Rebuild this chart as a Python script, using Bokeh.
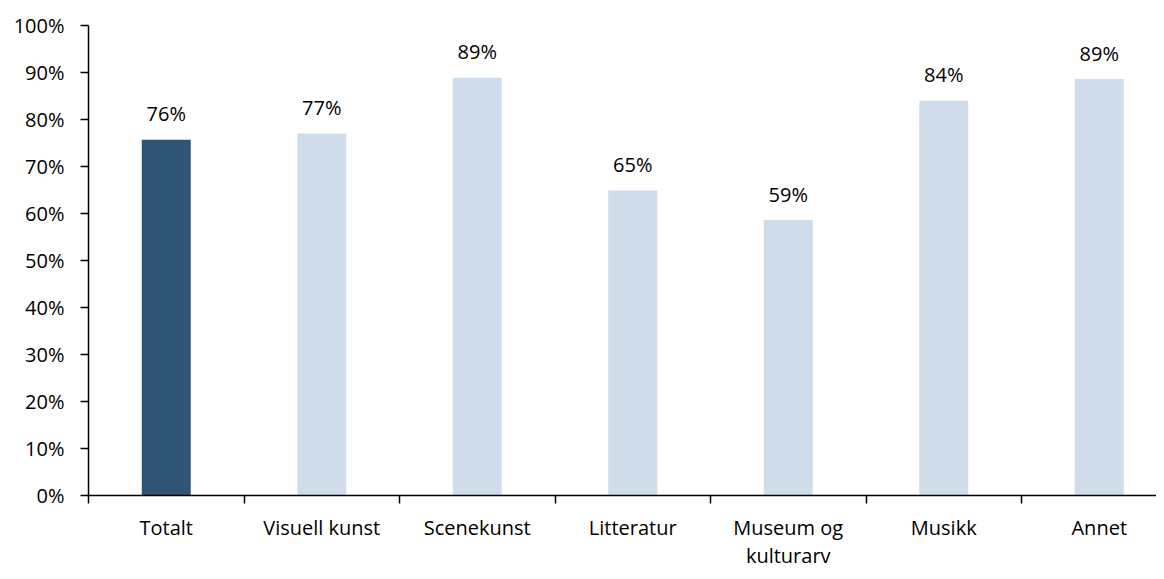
from bokeh.plotting import figure
from bokeh.models import ColumnDataSource, Range1d, FixedTicker, PrintfTickFormatter, LabelSet
from bokeh.core.properties import value
from bokeh.embed import file_html
from bokeh.resources import INLINE

categories = ["Totalt", "Visuell kunst", "Scenekunst", "Litteratur", "Museum og\nkulturarv", "Musikk", "Annet"]
values = [75.7, 77.0, 88.9, 64.9, 58.6, 84.0, 88.6]
colors = ["#2F5574", "#CEDDE9", "#CEDDE9", "#CEDDE9", "#CEDDE9", "#CEDDE9", "#CEDDE9"]
y_ticks = [0, 10, 20, 30, 40, 50, 60, 70, 80, 90, 100]

FONT = "Open Sans"
FS = "20px"
n = len(categories)
centers = [i + 0.5 for i in range(n)]
separators = list(range(n + 1))
labels = [f"{int(v + 0.5)}%" for v in values]

W, H = 1156, 571
LEFT, TOP = 88, 25
src = ColumnDataSource(dict(x=centers, top=values, color=colors, label=labels))

p = figure(width=W, height=H, output_backend="svg", toolbar_location=None,
           x_range=Range1d(0, (W - LEFT) / 155.5), y_range=Range1d(0, 100),
           min_border_left=LEFT, min_border_right=0, min_border_top=TOP, min_border_bottom=40)
p.outline_line_color = None
p.xgrid.visible = False
p.ygrid.visible = False

p.vbar(x="x", top="top", bottom=0, width=0.315, color="color", line_color=None, source=src)

p.add_layout(LabelSet(x="x", y="top", text="label", source=src, y_offset=26,
                      text_align="center", text_baseline="middle",
                      text_font=value(FONT), text_font_size=FS, text_color="#000000"))

# x axis: separator ticks (minor) and centred category labels (major)
xa = p.xaxis[0]
xa.ticker = FixedTicker(ticks=centers, minor_ticks=separators)
xa.major_label_overrides = {c: lab for c, lab in zip(centers, categories)}
xa.major_tick_out = 0
xa.major_tick_in = 0
xa.minor_tick_out = 8
xa.minor_tick_in = 0
xa.minor_tick_line_color = "#000000"
xa.minor_tick_line_width = 1.5
xa.axis_line_color = "#000000"
xa.axis_line_width = 1.5
xa.major_label_standoff = 10
xa.major_label_text_line_height = 1.05
xa.major_label_text_font = FONT
xa.major_label_text_font_size = FS
xa.major_label_text_color = "#000000"

# y axis
ya = p.yaxis[0]
ya.ticker = FixedTicker(ticks=y_ticks, minor_ticks=[])
ya.formatter = PrintfTickFormatter(format="%d%%")
ya.major_tick_out = 8
ya.major_tick_in = 0
ya.major_tick_line_color = "#000000"
ya.major_tick_line_width = 1.5
ya.axis_line_color = "#000000"
ya.axis_line_width = 1.5
ya.major_label_standoff = 16
ya.major_label_text_font = FONT
ya.major_label_text_font_size = FS
ya.major_label_text_color = "#000000"

open("out.html", "w").write(file_html(p, INLINE))
